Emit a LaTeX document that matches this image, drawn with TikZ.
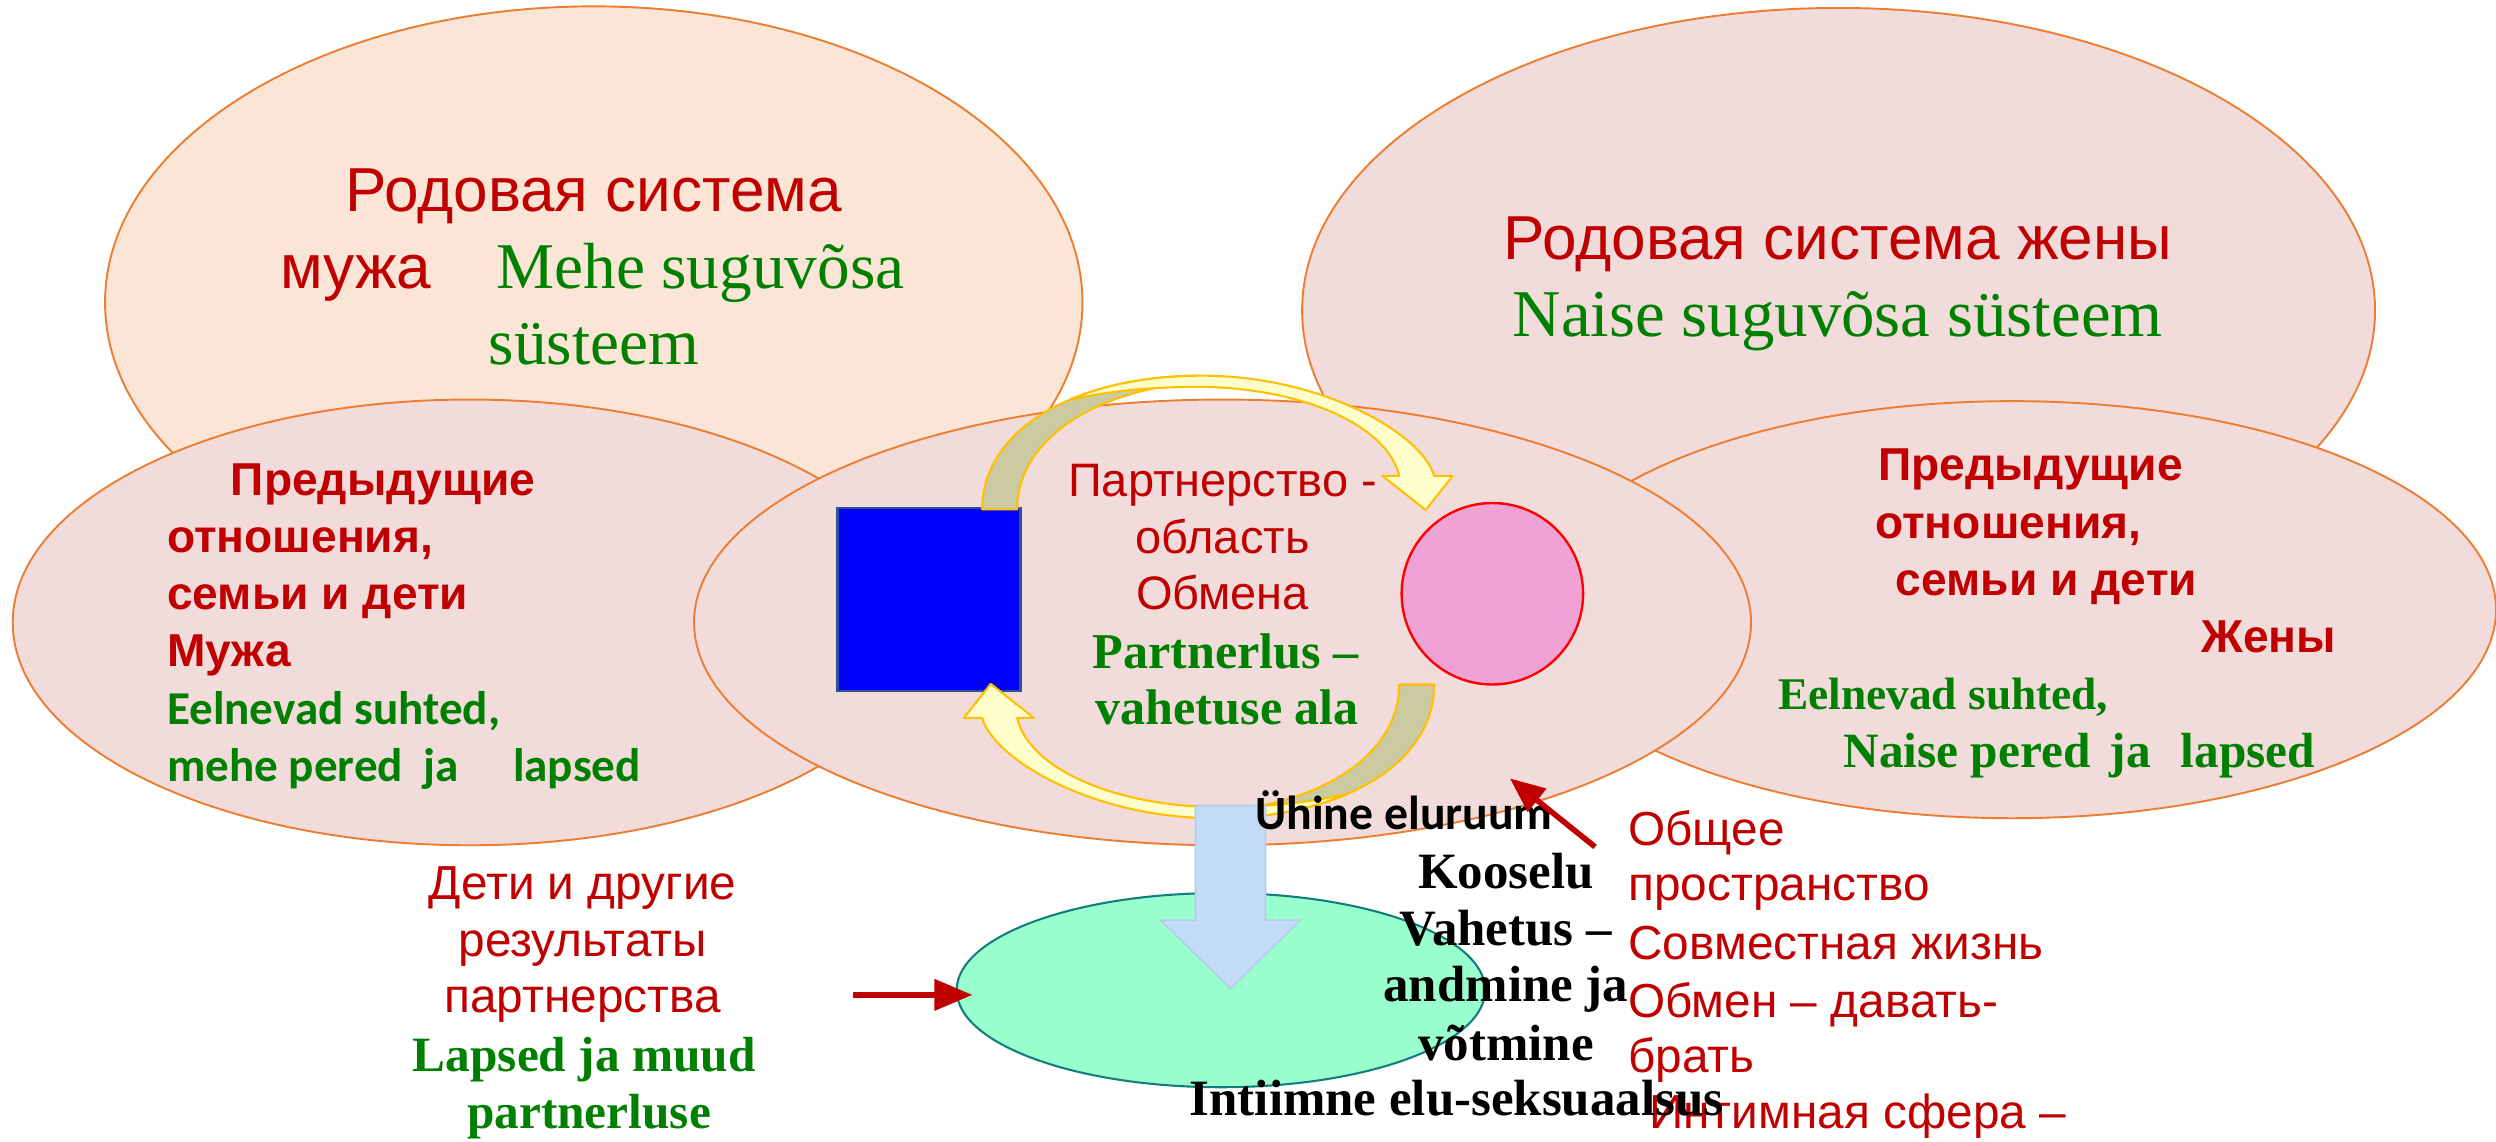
\documentclass[tikz,border=0pt]{standalone}
\usepackage{fontspec}
\setmainfont{Liberation Serif}
\newfontfamily\lsans{Liberation Sans}
\newfontfamily\lserif{Liberation Serif}
\newfontfamily\carl{Carlito}
\usetikzlibrary{arrows.meta}
\definecolor{tred}{HTML}{C00000}
\definecolor{tgreen}{HTML}{008000}
\definecolor{peach}{HTML}{FBE5D6}
\definecolor{rosefill}{HTML}{F2DCDB}
\definecolor{orangeline}{HTML}{ED7D31}
\definecolor{khaki}{HTML}{CBCAA0}
\definecolor{lightyel}{HTML}{FFFFCC}
\definecolor{gold}{HTML}{FFC000}
\definecolor{lblue}{HTML}{C4DBF8}
\definecolor{lblueb}{HTML}{B4CCEB}
\definecolor{pinkfill}{HTML}{F0A2D4}
\definecolor{mint}{HTML}{99FFCC}
\definecolor{teal2}{HTML}{127D7D}
\definecolor{rectline}{HTML}{2F528F}
\tikzset{
  txt/.style={inner sep=0pt, outer sep=0pt},
  rsans/.style={txt, text=tred, font=\lsans\fontsize{#1}{#1}\selectfont},
  rsansb/.style={txt, text=tred, font=\lsans\bfseries\fontsize{#1}{#1}\selectfont},
  gserif/.style={txt, text=tgreen, font=\lserif\fontsize{#1}{#1}\selectfont},
  gserifb/.style={txt, text=tgreen, font=\lserif\bfseries\fontsize{#1}{#1}\selectfont},
  gcarlb/.style={txt, text=tgreen, font=\carl\bfseries\fontsize{#1}{#1}\selectfont},
  kserifb/.style={txt, text=black, font=\lserif\bfseries\fontsize{#1}{#1}\selectfont},
  kcarlb/.style={txt, text=black, font=\carl\bfseries\fontsize{#1}{#1}\selectfont},
  bubble/.style={line width=1.2, draw=orangeline},
  arrowband/.style={draw=gold, line width=1.3, line join=round}
}
\newcommand\curvedarrowshape{%
  \filldraw[arrowband, fill=khaki]
    (617,320) .. controls (617,270) and (675,236) .. (755,236)
    -- (755,240) .. controls (690,244) and (639,275) .. (639,320) -- cycle;
  \filldraw[arrowband, fill=lightyel]
    (671.9,251.2) .. controls (694.5,241.4) and (723,236) .. (755,236)
    .. controls (830,236) and (893,272) .. (901,299)
    -- (912.5,299) -- (895.6,320.4) -- (868.5,299) -- (879,299)
    .. controls (872,268) and (820,244) .. (755,243)
    .. controls (720,243) and (695,246) .. (671.9,251.2) -- cycle;
}
\begin{document}
\begin{tikzpicture}[x=1pt,y=-1pt]
\path[use as bounding box] (0,0) rectangle (1568,717);
\clip (0,0) rectangle (1568,717);
\fill[white] (0,0) rectangle (1568,717);

% top ellipses
\filldraw[bubble, fill=peach] (373,190) ellipse [x radius=307, y radius=186];
\filldraw[bubble, fill=rosefill] (1155,195) ellipse [x radius=337, y radius=190];
% lower ellipses
\filldraw[bubble, fill=rosefill] (295,391) ellipse [x radius=287, y radius=140];
\filldraw[bubble, fill=rosefill] (1264,383) ellipse [x radius=304, y radius=131];
% central ellipse
\filldraw[bubble, fill=rosefill] (768,391) ellipse [x radius=332, y radius=140];

% top-left texts
\node[rsans=39, anchor=base] (tl1) at (373,133) {Родовая система};
\node[rsans=39, anchor=base west] (tl2) at (176,181) {мужа};
\node[gserif=41, anchor=base west] (tl3) at (312,181) {Mehe suguvõsa};
\node[gserif=41, anchor=base] (tl4) at (373,229) {süsteem};
% top-right texts
\node[rsans=39, anchor=base] (tr1) at (1154.5,163) {Родовая система жены};
\node[gserif=42, anchor=base] (tr2) at (1154.5,211.5) {Naise suguvõsa süsteem};

% lower-left texts
\node[rsansb=29, anchor=base west] (ll1) at (145,311) {Предыдущие};
\node[rsansb=29, anchor=base west] (ll2) at (105,347) {отношения,};
\node[rsansb=29, anchor=base west] (ll3) at (105,383) {семьи и дети};
\node[rsansb=29, anchor=base west] (ll4) at (105,419) {Мужа};
\node[gcarlb=29.6, anchor=base west] (ll5) at (105,455) {Eelnevad suhted,};
\node[gcarlb=29.6, anchor=base west] (ll6) at (105,491) {mehe pered\hspace{13pt}ja\hspace{34pt}lapsed};

% lower-right texts
\node[rsansb=29, anchor=base west] (lr1) at (1180,302) {Предыдущие};
\node[rsansb=29, anchor=base west] (lr2) at (1178,338) {отношения,};
\node[rsansb=29, anchor=base west] (lr3) at (1191,374) {семьи и дети};
\node[rsansb=29, anchor=base west] (lr4) at (1383,410) {Жены};
\node[gserifb=28.5, anchor=base west] (lr5) at (1117,446) {Eelnevad suhted,};
\node[gserifb=31, anchor=base west] (lr6) at (1158,482) {Naise pered\hspace{12pt}ja\hspace{19pt}lapsed};

% blue rectangle and pink circle
\filldraw[fill=blue, draw=rectline, line width=1.5] (526,319) rectangle (641,434);
\filldraw[fill=pinkfill, draw=red, line width=1.5] (937.5,373) circle [radius=57];

% curved arrows
\curvedarrowshape
\begin{scope}[rotate around={180:(759,375)}]
\curvedarrowshape
\end{scope}

% central texts
\node[rsans=29.5, anchor=base] (c1) at (768,312) {Партнерство -};
\node[rsans=29.5, anchor=base] (c2) at (768,348) {область};
\node[rsans=29.5, anchor=base] (c3) at (768,383) {Обмена};
\node[gserifb=31.5, anchor=base] (c4) at (770,420) {Partnerlus –};
\node[gserifb=31.5, anchor=base] (c5) at (771,455) {vahetuse ala};

% green ellipse and light blue arrow
\filldraw[fill=mint, draw=teal2, line width=1.3] (767,622) ellipse [x radius=166, y radius=61];
\filldraw[fill=lblue, draw=lblueb, line width=1]
  (751,506) -- (795,506) -- (795,578) -- (817,578) -- (773,621) -- (729,578) -- (751,578) -- cycle;

% bottom-left texts
\node[rsans=30, anchor=base] (bl1) at (366,565) {Дети и другие};
\node[rsans=30, anchor=base] (bl2) at (366,601) {результаты};
\node[rsans=30, anchor=base] (bl3) at (366,636) {партнерства};
\node[gserifb=31, anchor=base] (bl4) at (367,673) {Lapsed ja muud};
\node[gserifb=31, anchor=base] (bl5) at (370,709) {partnerluse};

% bottom-right red texts
\node[rsans=30, anchor=base west] (br1) at (1023,531) {Общее};
\node[rsans=30, anchor=base west] (br2) at (1023,566) {пространство};
\node[rsans=30, anchor=base west] (br3) at (1023,603) {Совместная жизнь};
\node[rsans=30, anchor=base west] (br4) at (1023,639) {Обмен – давать-};
\node[rsans=30, anchor=base west] (br5) at (1023,674) {брать};
\node[rsans=30, anchor=base west] (br6) at (1036,709) {Интимная сфера –};

% black texts
\node[kcarlb=30, anchor=base] (k1) at (882,521) {Ühine eluruum};
\node[kserifb=32, anchor=base] (k2) at (946,558) {Kooselu};
\node[kserifb=32, anchor=base] (k3) at (946,594) {Vahetus –};
\node[kserifb=32, anchor=base] (k4) at (946,629) {andmine ja};
\node[kserifb=32, anchor=base] (k5) at (946,666) {võtmine};
\node[kserifb=32, anchor=base] (k6) at (915,701) {Intiimne elu-seksuaalsus};

% red arrows
\coordinate (ha) at (536,625);
\coordinate (hb) at (611,625);
\draw[tred, line width=4, -{Triangle[length=24pt,width=19pt]}] (ha) -- (hb);
\coordinate (da) at (1002,532);
\coordinate (db) at (948.5,489);
\draw[tred, line width=3.5, -{Triangle[length=22pt,width=18pt]}] (da) -- (db);
\end{tikzpicture}
\end{document}
